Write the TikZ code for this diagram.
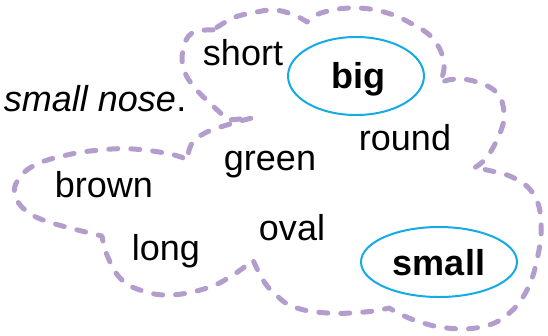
\documentclass[tikz,border=0pt]{standalone}
\usepackage{fontspec}
\setmainfont{Liberation Sans}
\usetikzlibrary{shapes.geometric}
\definecolor{cloudline}{RGB}{179,157,204}
\definecolor{ringline}{RGB}{20,170,230}
\begin{document}
\begin{tikzpicture}[x=1pt,y=-1pt,
  word/.style={inner sep=0pt,anchor=base,font=\fontsize{36}{40}\selectfont},
  keyword/.style={word,font=\fontsize{36}{40}\selectfont\bfseries},
  ring/.style={draw=ringline,line width=2pt,ellipse},
  cloud/.style={draw=cloudline,line width=5pt,line cap=round,line join=round,dash pattern=on 9pt off 13pt}]
\useasboundingbox (0,0) rectangle (548,335);
% cloud outline
\draw[cloud]
  plot[smooth,tension=0.7] coordinates {(213,30) (192,33) (183,50) (184,70) (195,88) (212,105) (228,120)}
  -- (252,118)
  -- plot[smooth,tension=0.7] coordinates {(252,118) (230,124) (205,133) (191,145) (188,160)}
  -- plot[smooth,tension=0.7] coordinates {(188,160) (170,154) (133,149) (100,150) (67,155) (35,165) (18,180) (15,195) (25,210) (43,220) (70,228) (102,236)}
  -- plot[smooth,tension=0.7] coordinates {(102,236) (107,255) (120,278) (140,290) (170,295) (207,288) (233,275) (253,260)}
  -- plot[smooth,tension=0.7] coordinates {(253,260) (263,280) (275,294) (294,307) (327,313) (365,312) (389,308)}
  -- plot[smooth,tension=0.7] coordinates {(389,308) (414,320) (447,328) (481,327) (507,315) (527,290) (538,255) (541,222) (534,195) (514,178) (487,170) (474,168)}
  -- plot[smooth,tension=0.7] coordinates {(474,168) (487,157) (500,133) (504,113) (497,93) (477,82) (455,79) (440,83)}
  -- plot[smooth,tension=0.7] coordinates {(440,83) (444,63) (434,40) (414,25) (384,12) (351,8) (321,13) (307,22)}
  -- plot[smooth,tension=0.7] coordinates {(307,22) (294,15) (274,10) (252,13) (233,18) (213,30)};
% ellipses
\node[ring,minimum width=136pt,minimum height=78pt] (bigring) at (356,76) {};
\node[ring,minimum width=156pt,minimum height=70pt] (smallring) at (439,262) {};
% words
\node[word,font=\fontsize{36}{40}\selectfont\itshape] (nose) at (90,111) {small nose};
\node[word,anchor=base west] (dot) at (nose.base east) {.};
\node[word] (short) at (243,65) {short};
\node[keyword] (big) at (358,88) {big};
\node[word] (round) at (405,150) {round};
\node[word] (green) at (270,170) {green};
\node[word] (brown) at (104,197) {brown};
\node[word] (long) at (166,260) {long};
\node[word] (oval) at (292,240) {oval};
\node[keyword] (small) at (439,275) {small};
\end{tikzpicture}
\end{document}
